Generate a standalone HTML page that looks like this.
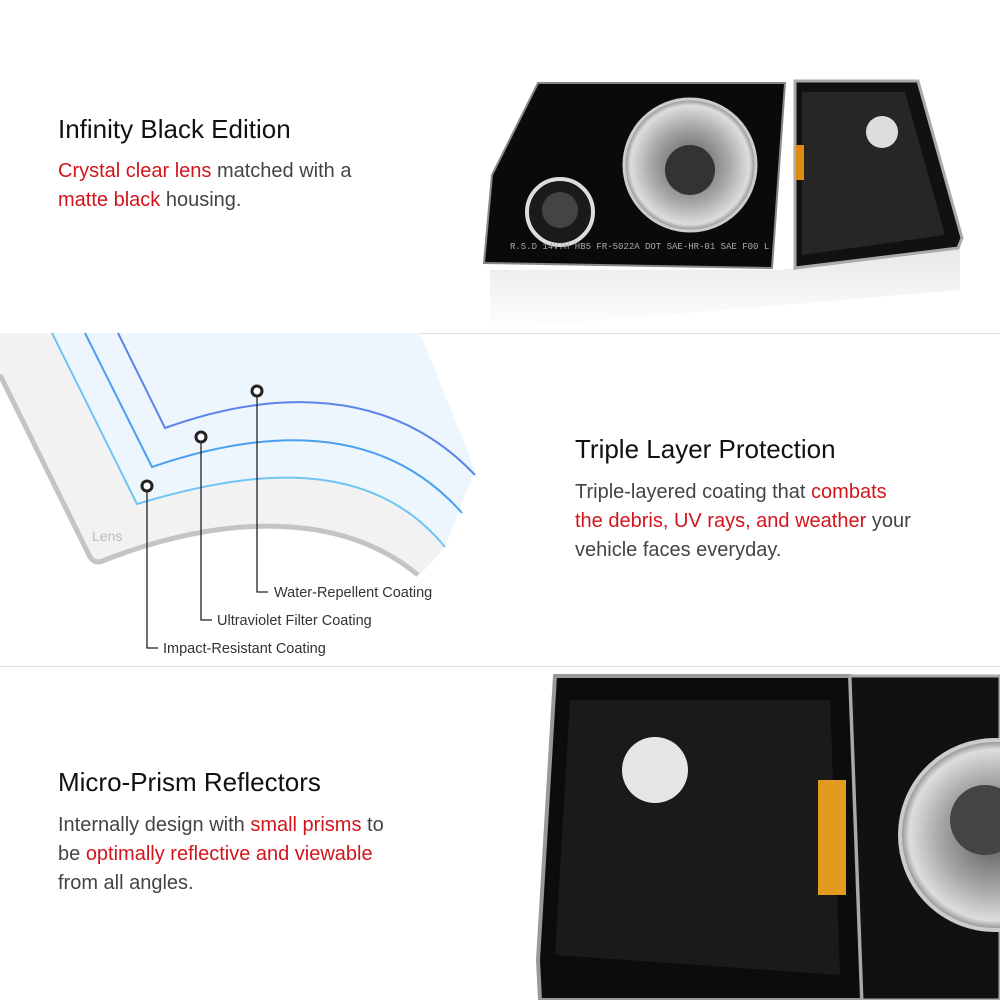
<!DOCTYPE html>
<html><head><style>
html,body{margin:0;padding:0;background:#fff;}
body{width:1000px;height:1000px;position:relative;overflow:hidden;font-family:"Liberation Sans",sans-serif;}
.t{position:absolute;color:#111;font-size:26px;}
.p{position:absolute;color:#444;font-size:20px;line-height:29px;}
.r{color:#d2151c;}
.hr{position:absolute;left:0;width:1000px;height:1px;background:#ddd;}
svg{position:absolute;left:0;top:0;}
</style></head><body>
<div class="hr" style="top:333px"></div>
<div class="hr" style="top:666px"></div>
<svg width="1000" height="1000" viewBox="0 0 1000 1000">
<defs>
<linearGradient id="rf" x1="0" y1="0" x2="0" y2="1"><stop offset="0" stop-color="#ddd"/><stop offset="1" stop-color="#fff"/></linearGradient>
<radialGradient id="lens" cx="0.5" cy="0.5" r="0.5"><stop offset="0" stop-color="#555"/><stop offset="0.6" stop-color="#aaa"/><stop offset="0.9" stop-color="#ddd"/><stop offset="1" stop-color="#888"/></radialGradient>
</defs>
<!-- top headlight -->
<path d="M490 270 L780 270 L960 245 L960 290 L490 330 Z" fill="url(#rf)" opacity="0.7"/>
<path d="M538 83 L785 83 L772 268 L484 263 L492 175 Z" fill="#0a0a0a" stroke="#888" stroke-width="2"/>
<path d="M795 81 L918 81 L962 238 L958 248 L795 268 Z" fill="#111" stroke="#aaa" stroke-width="3"/>
<path d="M802 92 L905 92 L945 235 L802 255 Z" fill="#262626"/>
<circle cx="882" cy="132" r="16" fill="#ddd"/>
<rect x="796" y="145" width="8" height="35" fill="#e08a10"/>
<circle cx="690" cy="165" r="66" fill="url(#lens)" stroke="#ccc" stroke-width="3"/>
<circle cx="690" cy="170" r="25" fill="#333"/>
<circle cx="560" cy="212" r="33" fill="#1a1a1a" stroke="#ddd" stroke-width="4"/>
<circle cx="560" cy="210" r="18" fill="#444"/>
<text x="510" y="249" fill="#aaa" font-size="9" font-family="Liberation Mono">R.S.D   14V7H HB5 FR-5022A DOT SAE-HR-01  SAE F00  L</text>
<!-- bottom headlight -->
<path d="M555 676 L850 676 L862 1000 L540 1000 L538 960 Z" fill="#0c0c0c" stroke="#999" stroke-width="4"/>
<path d="M570 700 L830 700 L840 975 L555 955 Z" fill="#1a1a1a"/>
<path d="M850 676 L1000 676 L1000 1000 L862 1000 Z" fill="#111" stroke="#aaa" stroke-width="3"/>
<circle cx="655" cy="770" r="33" fill="#e6e6e6"/>
<rect x="818" y="780" width="28" height="115" fill="#e39a1e"/>
<circle cx="995" cy="835" r="95" fill="url(#lens)" stroke="#ccc" stroke-width="4"/>
<circle cx="985" cy="820" r="35" fill="#444"/>
<!-- lens diagram -->
<path d="M0 333 L52 333 L137 504 C250 470 370 455 445 547 L420 575 C330 505 200 520 95 562 L0 375 Z" fill="#f2f2f2"/>
<path d="M52 333 L420 333 L475 470 L445 547 C370 455 250 470 137 504 Z" fill="#eef6fd"/>
<path d="M0 375 L90 557 Q95 565 105 560 C220 515 340 510 418 575" fill="none" stroke="#c4c4c4" stroke-width="5"/>
<path d="M52 333 L137 504 C250 470 370 455 445 547" fill="none" stroke="#6fc4f4" stroke-width="2"/>
<path d="M85 333 L152 467 C260 430 380 420 462 513" fill="none" stroke="#4aa0ef" stroke-width="2"/>
<path d="M118 333 L165 428 C270 390 390 385 475 475" fill="none" stroke="#5a84ea" stroke-width="2"/>
<text x="92" y="541" fill="#bbb" font-size="14">Lens</text>
<g stroke="#222" stroke-width="1.3" fill="none">
<path d="M257 396 V592 H268"/><path d="M201 442 V620 H212"/><path d="M147 491 V648 H158"/>
</g>
<g stroke="#222" stroke-width="3" fill="#fff">
<circle cx="257" cy="391" r="5"/><circle cx="201" cy="437" r="5"/><circle cx="147" cy="486" r="5"/>
</g>
<g fill="#333" font-size="14.5">
<text x="274" y="597">Water-Repellent Coating</text>
<text x="217" y="625">Ultraviolet Filter Coating</text>
<text x="163" y="653">Impact-Resistant Coating</text>
</g>
</svg>
<div class="t" style="left:58px;top:114px">Infinity Black Edition</div>
<div class="p" style="left:58px;top:157px"><span class="r">Crystal clear lens</span> matched with a<br><span class="r">matte black</span> housing.</div>
<div class="t" style="left:575px;top:434px">Triple Layer Protection</div>
<div class="p" style="left:575px;top:478px">Triple-layered coating that <span class="r">combats<br>the debris, UV rays, and weather</span> your<br>vehicle faces everyday.</div>
<div class="t" style="left:58px;top:767px">Micro-Prism Reflectors</div>
<div class="p" style="left:58px;top:811px">Internally design with <span class="r">small prisms</span> to<br>be <span class="r">optimally reflective and viewable</span><br>from all angles.</div>
</body></html>
